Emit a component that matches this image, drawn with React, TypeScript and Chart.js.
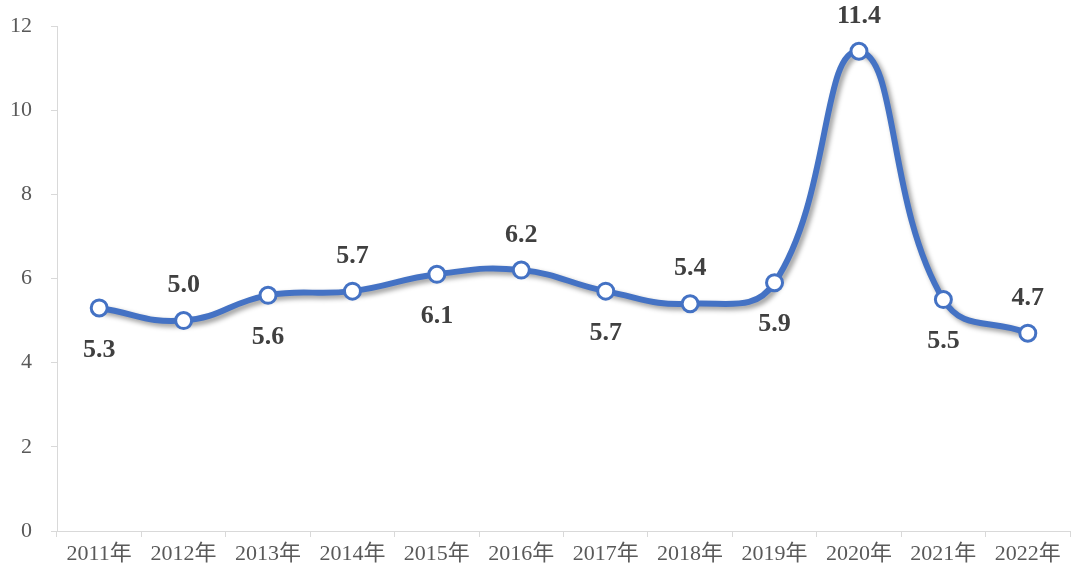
import React, { useEffect, useRef } from "react";
import { Chart, registerables } from "chart.js";

Chart.register(...registerables);

const categories = ["2011年", "2012年", "2013年", "2014年", "2015年", "2016年", "2017年", "2018年", "2019年", "2020年", "2021年", "2022年"];
const values = [5.3, 5.0, 5.6, 5.7, 6.1, 6.2, 5.7, 5.4, 5.9, 11.4, 5.5, 4.7];
const labelSide = ["below", "above", "below", "above", "below", "above", "below", "above", "below", "above", "below", "above"];

const SERIF = '"Times New Roman", "Liberation Serif", "Noto Sans CJK SC", serif';
const GRID = "#d9d9d9";
const BLUE = "#4472C4";

const shadowPlugin = {
  id: "lineShadow",
  beforeDatasetDraw(chart: any, args: any) {
    const ctx = chart.ctx;
    ctx.save();
    if (args.index === 0) {
      ctx.shadowColor = "rgba(0,0,0,0.4)";
      ctx.shadowBlur = 5;
      ctx.shadowOffsetX = 3;
      ctx.shadowOffsetY = 3;
    }
  },
  afterDatasetDraw(chart: any) {
    chart.ctx.restore();
  },
};

const labelPlugin = {
  id: "valueLabels",
  afterDraw(chart: any) {
    const ctx = chart.ctx;
    const meta = chart.getDatasetMeta(1);
    ctx.save();
    ctx.font = `bold 26px ${SERIF}`;
    ctx.fillStyle = "#404040";
    ctx.textAlign = "center";
    ctx.textBaseline = "middle";
    meta.data.forEach((pt: any, i: number) => {
      const dy = labelSide[i] === "above" ? -35 : 42;
      ctx.fillText(values[i].toFixed(1), pt.x, pt.y + dy);
    });
    ctx.restore();
  },
};

export default function App() {
  const ref = useRef<HTMLCanvasElement>(null);
  useEffect(() => {
    if (!ref.current) return;
    const chart = new Chart(ref.current, {
      type: "line",
      data: {
        labels: categories,
        datasets: [
          {
            data: values,
            borderColor: BLUE,
            borderWidth: 6,
            tension: 0.45,
            pointRadius: 0,
            fill: false,
            order: 1,
          },
          {
            data: values,
            showLine: false,
            pointRadius: 8,
            pointBorderWidth: 3,
            pointBackgroundColor: "#ffffff",
            pointBorderColor: BLUE,
            fill: false,
            order: 0,
          },
        ],
      },
      options: {
        animation: false,
        responsive: false,
        maintainAspectRatio: false,
        layout: { autoPadding: false, padding: { top: 26, right: 1, left: 0, bottom: 0 } },
        plugins: { legend: { display: false }, tooltip: { enabled: false } },
        scales: {
          x: {
            offset: true,
            grid: {
              offset: true,
              drawOnChartArea: false,
              drawTicks: true,
              tickLength: 6,
              color: GRID,
            },
            border: { color: GRID, width: 1 },
            ticks: {
              color: "#595959",
              font: { family: SERIF, size: 22 },
              padding: 4,
              maxRotation: 0,
              autoSkip: false,
            },
            afterFit(scale: any) {
              scale.height = 45;
              scale.paddingLeft = 0;
              scale.paddingRight = 0;
            },
          },
          y: {
            min: 0,
            max: 12,
            grid: {
              drawOnChartArea: false,
              drawTicks: true,
              tickLength: 6,
              color: GRID,
            },
            border: { color: GRID, width: 1 },
            ticks: {
              stepSize: 2,
              color: "#595959",
              font: { family: SERIF, size: 22 },
              padding: 19,
            },
            afterFit(scale: any) {
              scale.width = 57;
              scale.paddingTop = 0;
              scale.paddingBottom = 0;
            },
          },
        },
      },
      plugins: [shadowPlugin, labelPlugin],
    });
    return () => chart.destroy();
  }, []);
  return (
    <div style={{ position: "fixed", left: 0, top: 0, width: 1071, height: 576, background: "#fff" }}>
      <canvas ref={ref} width={1071} height={576} style={{ width: 1071, height: 576 }} />
    </div>
  );
}
